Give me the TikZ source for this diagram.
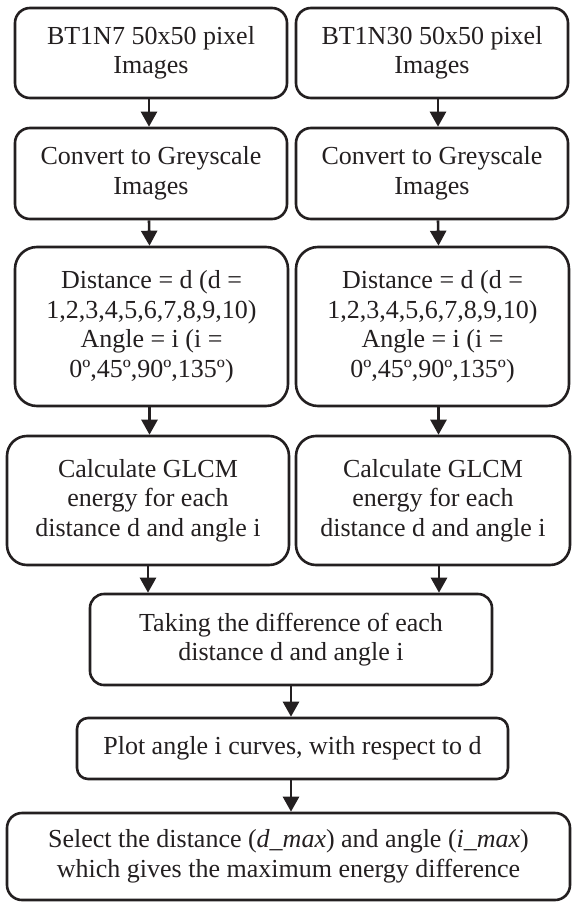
\documentclass[tikz,border=0pt]{standalone}
\usepackage{fontspec}
\setmainfont{Liberation Serif}
\usetikzlibrary{arrows.meta}
\definecolor{ink}{HTML}{231F20}
\tikzset{
  stepbox/.style={draw=ink, line width=2.6pt, align=center, text=ink,
    inner sep=0pt, font=\fontsize{26}{29.5}\selectfont},
  flow/.style={draw=ink, line width=2.6pt,
    -{Triangle[length=15pt,width=16pt]}}
}
\begin{document}
\begin{tikzpicture}[x=1pt,y=1pt]
\useasboundingbox (0,0) rectangle (571,-902);

% two parallel columns
\node[stepbox, minimum width=272pt, minimum height=90pt, rounded corners=15pt] (a1) at (151,-53) {BT1N7 50x50 pixel\\Images};
\node[stepbox, minimum width=272pt, minimum height=90pt, rounded corners=15pt] (b1) at (432,-53) {BT1N30 50x50 pixel\\Images};

\node[stepbox, minimum width=272pt, minimum height=91pt, rounded corners=15pt] (a2) at (151,-173.5) {Convert to Greyscale\\Images};
\node[stepbox, minimum width=272pt, minimum height=91pt, rounded corners=15pt] (b2) at (432,-173.5) {Convert to Greyscale\\Images};

\node[stepbox, minimum width=273pt, minimum height=159pt, rounded corners=22pt] (a3) at (151.5,-326.5) {Distance = d (d =\\1,2,3,4,5,6,7,8,9,10)\\Angle = i (i =\\0º,45º,90º,135º)};
\node[stepbox, minimum width=273pt, minimum height=159pt, rounded corners=22pt] (b3) at (432.5,-326.5) {Distance = d (d =\\1,2,3,4,5,6,7,8,9,10)\\Angle = i (i =\\0º,45º,90º,135º)};

\node[stepbox, minimum width=282pt, minimum height=129pt, rounded corners=20pt] (a4) at (148,-500.5) {Calculate GLCM\\energy for each\\distance d and angle i};
\node[stepbox, minimum width=274pt, minimum height=129pt, rounded corners=20pt] (b4) at (433,-500.5) {Calculate GLCM\\energy for each\\distance d and angle i};

% merged steps
\node[stepbox, minimum width=402pt, minimum height=91pt, rounded corners=14pt] (c5) at (291,-639.5) {Taking the difference of each\\distance d and angle i};
\node[stepbox, minimum width=431pt, minimum height=61pt, rounded corners=11pt] (c6) at (292.5,-748.5) {Plot angle i curves, with respect to d};
\node[stepbox, minimum width=563pt, minimum height=87pt, rounded corners=15pt] (c7) at (288.5,-856.5) {Select the distance (\textit{d\_max}) and angle (\textit{i\_max})\\which gives the maximum energy difference};

% connectors
\draw[flow] ([xshift=-2pt]a1.south) -- ([xshift=-2pt]a2.north);
\draw[flow] ([xshift=-2pt]a2.south) -- ([xshift=-2pt]a3.north);
\draw[flow] ([xshift=-2pt]a3.south) -- ([xshift=-2pt]a3.south |- a4.north);
\draw[flow] ([xshift=6pt]b1.south) -- ([xshift=6pt]b2.north);
\draw[flow] ([xshift=6pt]b2.south) -- ([xshift=6pt]b3.north);
\draw[flow] ([xshift=6pt]b3.south) -- ([xshift=6pt]b3.south |- b4.north);
\draw[flow] (a4.south) -- (a4.south |- c5.north);
\draw[flow] ([xshift=6pt]b4.south) -- ([xshift=6pt]b4.south |- c5.north);
\draw[flow] (c5.south) -- (c5.south |- c6.north);
\draw[flow] ([xshift=-1.5pt]c6.south) -- ([xshift=-1.5pt]c6.south |- c7.north);
\end{tikzpicture}
\end{document}
